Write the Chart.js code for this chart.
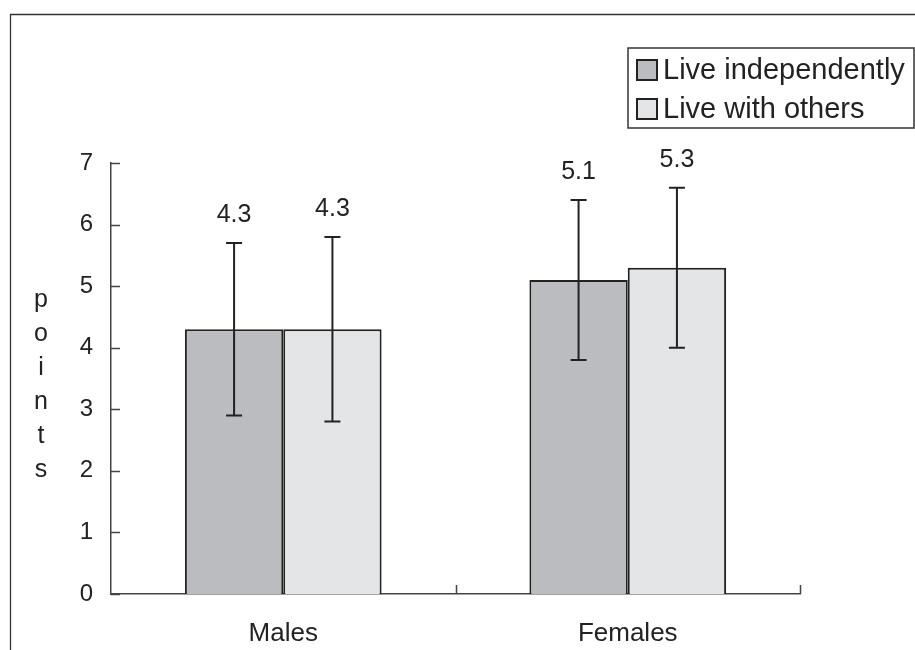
<!DOCTYPE html>
<html>
<head>
<meta charset="utf-8">
<script src="https://cdn.jsdelivr.net/npm/chart.js@4"></script>
<style>
  html, body { margin: 0; padding: 0; background: #fff; }
  #wrap { position: relative; width: 915px; height: 650px; }
</style>
</head>
<body>
<div id="wrap"><canvas id="chart"></canvas></div>
<script>
// ===== DATA =====
const categories = ['Males', 'Females'];
const seriesNames = ['Live independently', 'Live with others'];
const independentMeans = [4.3, 5.1];
const independentSD = [1.4, 1.3];
const othersMeans = [4.3, 5.3];
const othersSD = [1.5, 1.3];
const yTickValues = [0, 1, 2, 3, 4, 5, 6, 7];
const yTitle = 'points';

const FONT = '"Liberation Sans", Arial, sans-serif';
const INK = '#222';

// ===== PLUGINS =====
// outer frame (top + left line)
const framePlugin = {
  id: 'frame',
  beforeDraw(chart) {
    const c = chart.ctx;
    c.save();
    c.strokeStyle = '#333';
    c.lineWidth = 1.3;
    c.beginPath();
    c.moveTo(10.5, 650);
    c.lineTo(10.5, 14.5);
    c.lineTo(915, 14.5);
    c.stroke();
    c.restore();
  }
};

// inward ticks on both axes + vertical y title
const axisPlugin = {
  id: 'axisTicks',
  afterDraw(chart) {
    const c = chart.ctx;
    const x = chart.scales.x, y = chart.scales.y;
    c.save();
    c.strokeStyle = '#444';
    c.lineWidth = 1.5;
    c.beginPath();
    yTickValues.forEach(v => {
      const py = Math.round(y.getPixelForValue(v)) + 0.5;
      c.moveTo(x.left, py);
      c.lineTo(x.left + 9, py);
    });
    const step = (x.right - x.left) / categories.length;
    for (let i = 1; i <= categories.length; i++) {
      const px = Math.round(x.left + i * step) + 0.5;
      c.moveTo(px, y.bottom);
      c.lineTo(px, y.bottom - 9);
    }
    c.stroke();

    // y title, one letter per line
    c.fillStyle = INK;
    c.font = '25px ' + FONT;
    c.textAlign = 'center';
    c.textBaseline = 'alphabetic';
    yTitle.split('').forEach((ch, i) => c.fillText(ch, 41, 307 + i * 34));
    c.restore();
  }
};

// error bars + value labels
const errorPlugin = {
  id: 'errorBars',
  afterDatasetsDraw(chart) {
    const c = chart.ctx;
    const y = chart.scales.y;
    const sds = [independentSD, othersSD];
    c.save();
    c.strokeStyle = INK;
    c.lineWidth = 2;
    c.fillStyle = INK;
    c.font = '25px ' + FONT;
    c.textAlign = 'center';
    c.textBaseline = 'middle';
    chart.data.datasets.forEach((ds, di) => {
      chart.getDatasetMeta(di).data.forEach((bar, i) => {
        const m = ds.data[i], sd = sds[di][i];
        const top = y.getPixelForValue(m + sd);
        const bot = y.getPixelForValue(m - sd);
        c.beginPath();
        c.moveTo(bar.x, top); c.lineTo(bar.x, bot);
        c.moveTo(bar.x - 8, top); c.lineTo(bar.x + 8, top);
        c.moveTo(bar.x - 8, bot); c.lineTo(bar.x + 8, bot);
        c.stroke();
        c.fillText(m.toFixed(1), bar.x, top - 28);
      });
    });
    c.restore();
  }
};

// boxed legend, top right
const legendPlugin = {
  id: 'boxLegend',
  afterDraw(chart) {
    const c = chart.ctx;
    c.save();
    c.strokeStyle = '#333';
    c.lineWidth = 1.5;
    c.strokeRect(628, 48, 286, 80);
    c.font = '29px ' + FONT;
    c.textBaseline = 'middle';
    c.textAlign = 'left';
    chart.data.datasets.forEach((ds, i) => {
      const cy = 70 + i * 39;
      c.fillStyle = ds.backgroundColor;
      c.fillRect(637, cy - 10, 20, 20);
      c.lineWidth = 2;
      c.strokeStyle = INK;
      c.strokeRect(637, cy - 10, 20, 20);
      c.fillStyle = INK;
      c.fillText(ds.label, 663, cy + 1);
    });
    c.restore();
  }
};

// ===== CHART =====
new Chart(document.getElementById('chart'), {
  type: 'bar',
  data: {
    labels: categories,
    datasets: [{
      label: seriesNames[0],
      data: independentMeans,
      backgroundColor: '#bbbcc0',
      borderColor: INK,
      borderWidth: 2
    }, {
      label: seriesNames[1],
      data: othersMeans,
      backgroundColor: '#e4e5e7',
      borderColor: INK,
      borderWidth: 2
    }]
  },
  options: {
    responsive: true,
    maintainAspectRatio: false,
    animation: false,
    layout: { padding: { top: 163, right: 115, left: 0, bottom: 0 } },
    datasets: { bar: { categoryPercentage: 0.571, barPercentage: 1 } },
    plugins: {
      legend: { display: false },
      tooltip: { enabled: false }
    },
    scales: {
      x: {
        grid: { display: false, drawTicks: false },
        border: { color: '#444', width: 1.5 },
        ticks: { color: INK, font: { family: FONT, size: 26 }, padding: 24 },
        afterFit: s => { s.height = 56; }
      },
      y: {
        min: 0,
        max: 7,
        grid: { display: false, drawTicks: false },
        border: { color: '#444', width: 1.5 },
        ticks: { stepSize: 1, color: INK, font: { family: FONT, size: 24 }, padding: 18 },
        afterFit: s => { s.width = 111; }
      }
    }
  },
  plugins: [framePlugin, axisPlugin, errorPlugin, legendPlugin]
});
</script>
</body>
</html>
